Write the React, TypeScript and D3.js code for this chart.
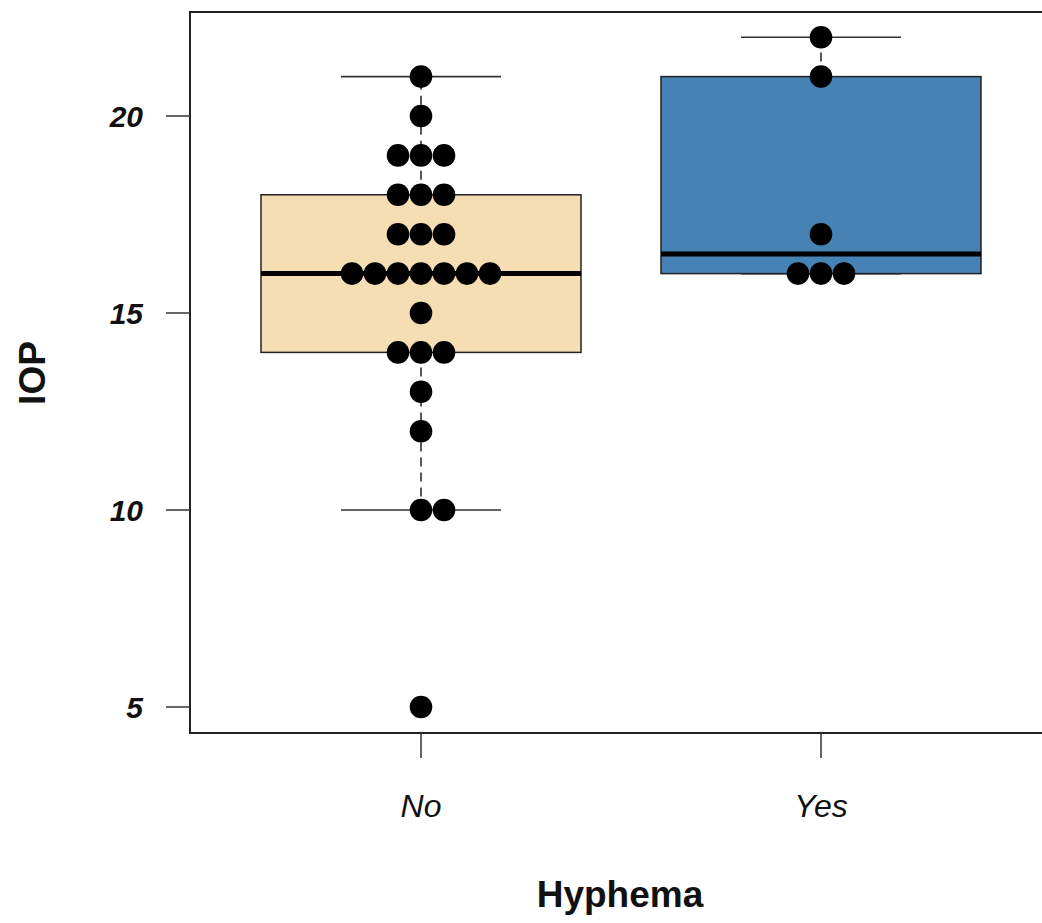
import React from "react";
import * as d3 from "d3";

const categories = ["No", "Yes"];
const iopNo = [21, 20, 19, 19, 19, 18, 18, 18, 17, 17, 17, 16, 16, 16, 16, 16, 16, 16, 15, 14, 14, 14, 13, 12, 10, 10, 5];
const iopYes = [22, 21, 17, 16, 16, 16];
const seriesValues = [iopNo, iopYes];
const fills = ["#F5DEB3", "#4682B4"];
const yTicks = [5, 10, 15, 20];

const W = 1042;
const H = 923;

function stats(vals: number[]) {
  const s = [...vals].sort((a, b) => a - b);
  const n = s.length;
  const med = d3.median(s) as number;
  const half = Math.floor((n + 1) / 2);
  const lower = s.slice(0, half);
  const upper = s.slice(n - half);
  const q1 = d3.median(lower) as number;
  const q3 = d3.median(upper) as number;
  const iqr = q3 - q1;
  const lo = s.find((v) => v >= q1 - 1.5 * iqr) as number;
  const hi = [...s].reverse().find((v) => v <= q3 + 1.5 * iqr) as number;
  return { q1, q3, med, lo, hi };
}

export default function App() {
  const x = d3.scaleLinear().domain([0.42, 2.58]).range([189, 1053]);
  const y = d3.scaleLinear().domain([5, 20]).range([707, 116]);
  const plotTop = 12;
  const plotBottom = 733;
  const plotLeft = 190;
  const dotSpacing = 23;
  const r = 11.3;

  return (
    <svg width={W} height={H} style={{ position: "absolute", left: 0, top: 0, background: "#fff" }} fontFamily="'Liberation Sans', Arial, sans-serif">
      {seriesValues.map((vals, i) => {
        const st = stats(vals);
        const cx = x(i + 1);
        const bw = x(1.4) - x(1);
        const cw = x(1.2) - x(1);
        const groups = d3.groups(vals, (v) => v);
        return (
          <g key={i}>
            <line x1={cx} x2={cx} y1={y(st.q3)} y2={y(st.hi)} stroke="#222" strokeWidth={1.5} strokeDasharray="9,6" />
            <line x1={cx} x2={cx} y1={y(st.q1)} y2={y(st.lo)} stroke="#222" strokeWidth={1.5} strokeDasharray="9,6" />
            <line x1={cx - cw} x2={cx + cw} y1={y(st.hi)} y2={y(st.hi)} stroke="#333" strokeWidth={1.6} />
            <line x1={cx - cw} x2={cx + cw} y1={y(st.lo)} y2={y(st.lo)} stroke="#333" strokeWidth={1.6} />
            <rect x={cx - bw} y={y(st.q3)} width={2 * bw} height={y(st.q1) - y(st.q3)} fill={fills[i]} stroke="#222" strokeWidth={1.5} />
            <line x1={cx - bw} x2={cx + bw} y1={y(st.med)} y2={y(st.med)} stroke="#000" strokeWidth={5} />
            {groups.map(([v, arr]) =>
              arr.map((_, k) => {
                const off = k - Math.floor((arr.length - 1) / 2);
                return <circle key={`${v}-${k}`} cx={cx + off * dotSpacing} cy={y(v)} r={r} fill="#000" />;
              })
            )}
          </g>
        );
      })}
      {/* frame */}
      <path d={`M${W + 20},${plotTop}H${plotLeft}V${plotBottom}H${W + 20}`} fill="none" stroke="#222" strokeWidth={2} />
      {/* y axis ticks */}
      {yTicks.map((t) => (
        <g key={t}>
          <line x1={166} x2={plotLeft} y1={y(t)} y2={y(t)} stroke="#333" strokeWidth={1.5} />
          <text x={143} y={y(t)} dy="0.36em" textAnchor="end" fontSize={30} fontStyle="italic" fontWeight="bold" fill="#111">
            {t}
          </text>
        </g>
      ))}
      {/* x axis ticks */}
      {categories.map((c, i) => (
        <g key={c}>
          <line x1={x(i + 1)} x2={x(i + 1)} y1={plotBottom} y2={758} stroke="#333" strokeWidth={1.5} />
          <text x={x(i + 1)} y={817} textAnchor="middle" fontSize={32} fontStyle="italic" fill="#111">
            {c}
          </text>
        </g>
      ))}
      <text x={620} y={907} textAnchor="middle" fontSize={37} fontWeight="bold" fill="#111">
        Hyphema
      </text>
      <text transform="translate(45,373) rotate(-90)" textAnchor="middle" fontSize={37} fontWeight="bold" fill="#111">
        IOP
      </text>
    </svg>
  );
}
